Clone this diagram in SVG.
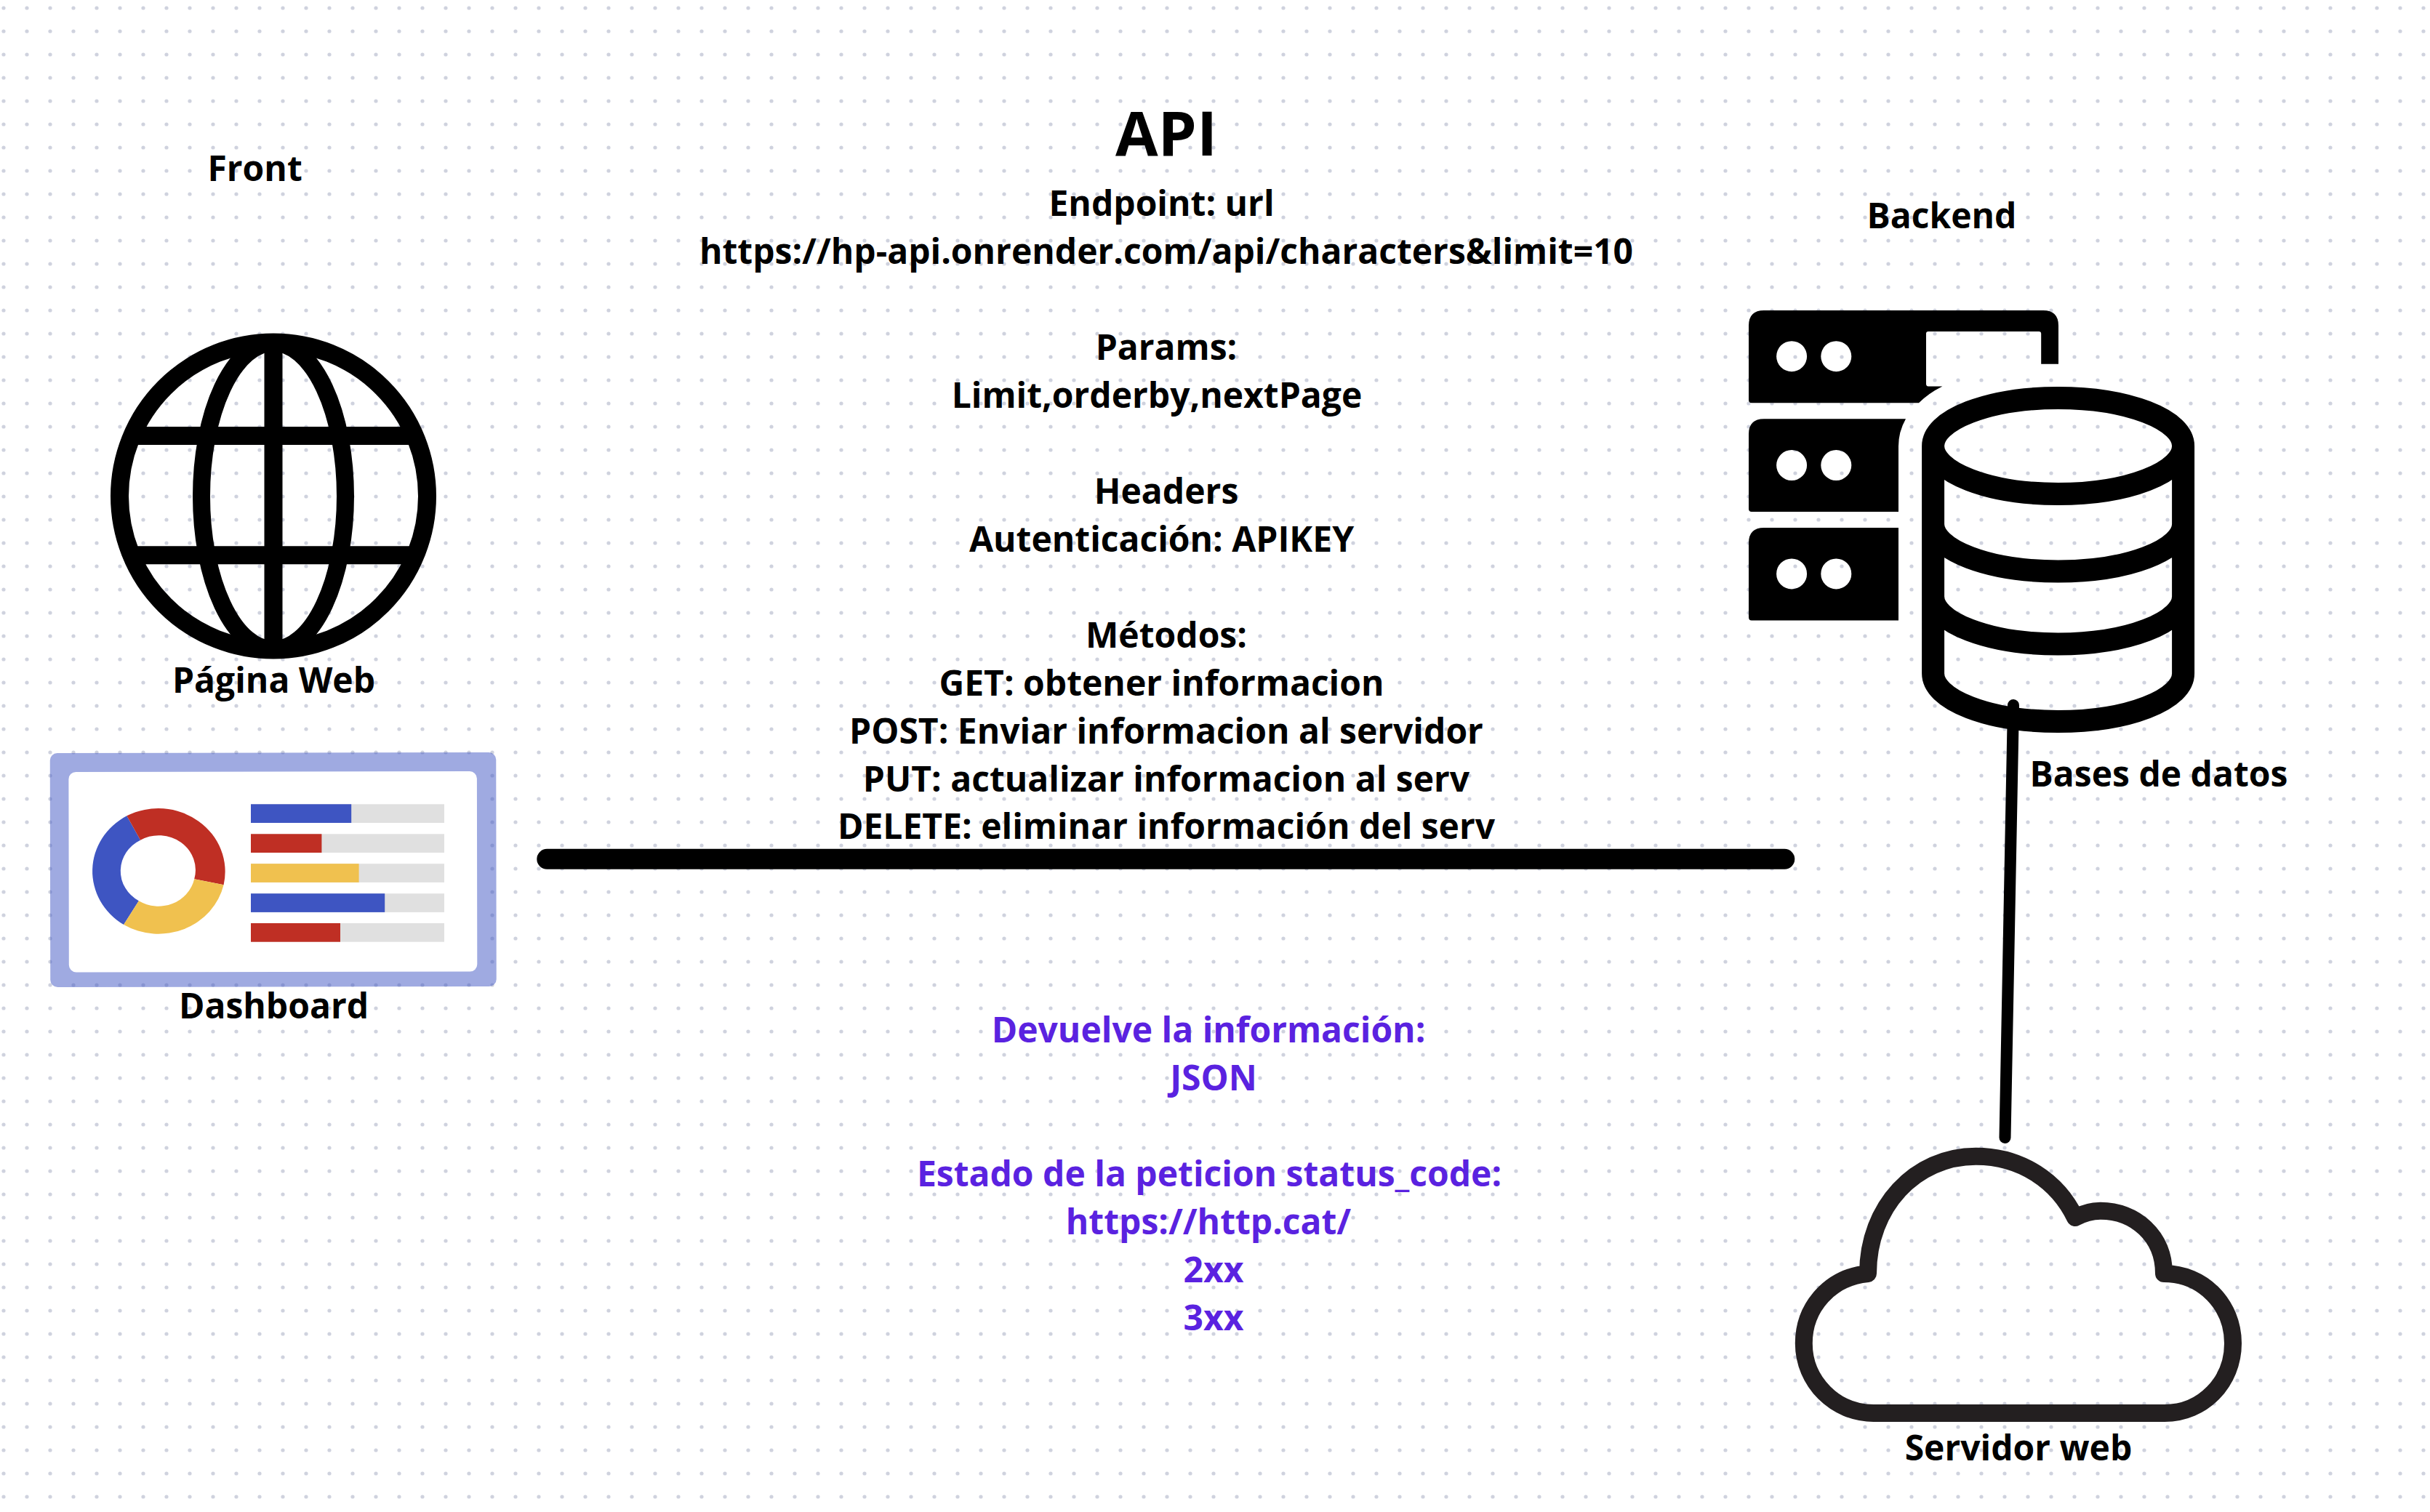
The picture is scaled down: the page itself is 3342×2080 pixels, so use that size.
<svg xmlns="http://www.w3.org/2000/svg" width="3342" height="2080" viewBox="0 0 3342 2080">
<style>
text{font-family:"Open Sans","Noto Sans",sans-serif;font-weight:700;font-size:48px;fill:#000;text-anchor:middle}
.p{fill:#5a22e0}
.k{fill:none;stroke:#000}
.c{fill:none;stroke:#000;stroke-linecap:round}
</style>
<defs><pattern id="dots" x="5" y="11" width="32" height="32" patternUnits="userSpaceOnUse"><circle cx="0" cy="0" r="2.6" fill="#cfd2de"/><circle cx="32" cy="0" r="2.6" fill="#cfd2de"/><circle cx="0" cy="32" r="2.6" fill="#cfd2de"/><circle cx="32" cy="32" r="2.6" fill="#cfd2de"/></pattern></defs>
<rect width="3342" height="2080" fill="#fff"/>
<rect x="0" y="0" width="3342" height="2080" fill="url(#dots)"/>
<g id="connectors">
<line class="c" x1="752.3" y1="1181.8" x2="2454.3" y2="1181.8" stroke-width="28"/>
<line class="c" x1="2769" y1="970" x2="2757.5" y2="1565" stroke-width="16"/>
</g>
<g id="front"><text x="350.6" y="249">Front</text></g>
<g id="backend"><text x="2670.5" y="314">Backend</text></g>
<g id="pagina-web">
<circle class="k" cx="376" cy="682.6" r="211.5" stroke-width="25"/>
<ellipse class="k" cx="376" cy="682.6" rx="99" ry="211" stroke-width="24"/>
<path class="k" d="M376 471V894M182 599.5H570M182 763.7H570" stroke-width="25"/>
<text x="376.5" y="953">Página Web</text>
</g>
<g id="dashboard">
<g transform="rotate(-0.09 376 1196)">
<rect x="69" y="1035.5" width="613.5" height="322" rx="10" fill="#3f56c4" fill-opacity=".5"/>
<rect x="94.6" y="1061.5" width="561.5" height="275.5" rx="10" fill="#fff"/>
</g>
<path fill="#3e55c2" d="M174.4 1122.3A92 87 0 0 0 170.1 1272L190.9 1239.3A50.5 47.7 0 0 1 193.1 1155.7Z"/>
<path fill="#bf2f24" d="M174.4 1122.3A92 87 0 0 1 307.6 1217.3L267.2 1209.3A50.5 47.7 0 0 0 193.1 1155.7Z"/>
<path fill="#f0c14f" d="M307.6 1217.3A92 87 0 0 1 170.1 1272L190.9 1239.3A50.5 47.7 0 0 0 267.2 1209.3Z"/>
<rect x="345" y="1106.3" width="266" height="25.7" fill="#e0e0e0"/><rect x="345" y="1106.3" width="138.2" height="25.7" fill="#3e55c2"/>
<rect x="345" y="1147.3" width="266" height="25.7" fill="#e0e0e0"/><rect x="345" y="1147.3" width="97.4" height="25.7" fill="#bf2f24"/>
<rect x="345" y="1188.2" width="266" height="25.7" fill="#e0e0e0"/><rect x="345" y="1188.2" width="148.6" height="25.7" fill="#f0c14f"/>
<rect x="345" y="1229.2" width="266" height="25.7" fill="#e0e0e0"/><rect x="345" y="1229.2" width="184.2" height="25.7" fill="#3e55c2"/>
<rect x="345" y="1270" width="266" height="25.7" fill="#e0e0e0"/><rect x="345" y="1270" width="123" height="25.7" fill="#bf2f24"/>
<text x="376.5" y="1401">Dashboard</text>
</g>
<g id="api">
<text x="1604" y="213.5" style="font-size:85px">API</text>
<text x="1597.5" y="296.7">Endpoint: url</text>
<text x="1604" y="362.5">https://hp-api.onrender.com/api/characters&amp;limit=10</text>
<text x="1604" y="494.5">Params:</text>
<text x="1591" y="560.5">Limit,orderby,nextPage</text>
<text x="1604" y="693">Headers</text>
<text x="1597.5" y="759">Autenticación: APIKEY</text>
<text x="1604" y="890.5">Métodos:</text>
<text x="1597.5" y="956.5">GET: obtener informacion</text>
<text x="1604" y="1022.5">POST: Enviar informacion al servidor</text>
<text x="1604" y="1088.5">PUT: actualizar informacion al serv</text>
<text x="1604" y="1154">DELETE: eliminar información del serv</text>
</g>
<g id="respuesta">
<text class="p" x="1662" y="1434">Devuelve la información:</text>
<text class="p" x="1669" y="1500">JSON</text>
<text class="p" x="1663" y="1632">Estado de la peticion status_code:</text>
<text class="p" x="1662" y="1698">https://http.cat/</text>
<text class="p" x="1669" y="1764">2xx</text>
<text class="p" x="1669" y="1830">3xx</text>
</g>
<g id="servidores">
<path fill="#000" fill-rule="evenodd" d="M2426 427H2810Q2831 427 2831 448V500.8H2807.2V459Q2807.2 456 2804 456H2652Q2649 456 2649 459V528Q2649 531.4 2652 531.4H2671.4Q2652 541 2639 554.3H2409Q2405 554.3 2405 550V448Q2405 427 2426 427ZM2443.1 490.2a21 21 0 1 0 42 0a21 21 0 1 0 -42 0ZM2504.3 490.2a21 21 0 1 0 42 0a21 21 0 1 0 -42 0Z"/>
<path fill="#000" fill-rule="evenodd" d="M2426 576.3H2621Q2611 594 2611 614V704H2409Q2405 704 2405 700V597Q2405 576.3 2426 576.3ZM2443.1 640a21 21 0 1 0 42 0a21 21 0 1 0 -42 0ZM2504.3 640a21 21 0 1 0 42 0a21 21 0 1 0 -42 0Z"/>
<path fill="#000" fill-rule="evenodd" d="M2426 726.1H2611V853.5H2409Q2405 853.5 2405 849V747Q2405 726.1 2426 726.1ZM2443.1 789.4a21 21 0 1 0 42 0a21 21 0 1 0 -42 0ZM2504.3 789.4a21 21 0 1 0 42 0a21 21 0 1 0 -42 0Z"/>
</g>
<g id="bases-de-datos">
<path class="k" stroke-width="31" d="M2658.6 613.5V926.5A172 66 0 0 0 3002.6 926.5V613.5M2658.6 613.5A172 66 0 0 1 3002.6 613.5A172 66 0 0 1 2658.6 613.5ZM2658.6 721A172 65 0 0 0 3002.6 721M2658.6 820.5A172 65.5 0 0 0 3002.6 820.5"/>
<text x="2969" y="1082">Bases de datos</text>
</g>
<g id="servidor-web">
<path fill="none" stroke="#231f20" stroke-width="24" stroke-linejoin="round" d="M2576.6 1944H2977C3030 1944 3071 1901 3071 1848C3071 1795 3030 1752 2976 1752C2976 1700 2936 1665.7 2888.8 1665.7C2876 1665.7 2865 1669 2854 1675C2830 1625 2780 1590.7 2717.5 1590.7C2634 1590.7 2569 1660 2569 1752C2517 1757 2480.8 1798 2480.8 1848C2480.8 1901 2524 1944 2576.6 1944Z"/>
<text x="2776" y="2009">Servidor web</text>
</g>
</svg>
